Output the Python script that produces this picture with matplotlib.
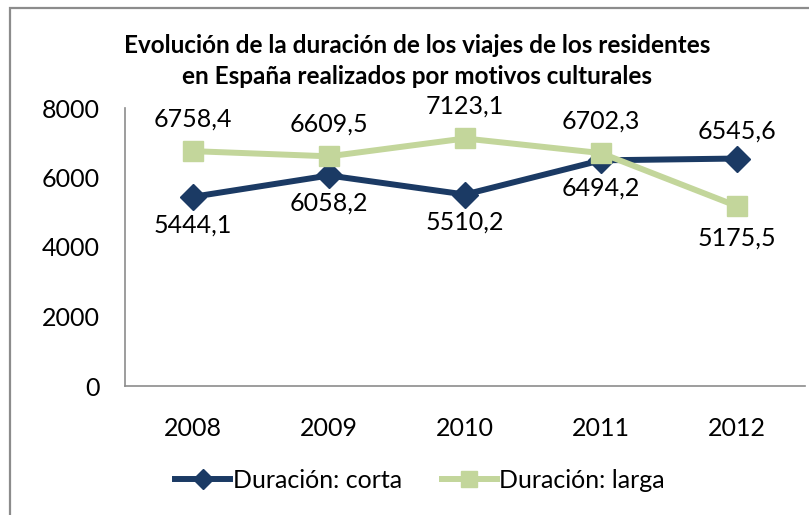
#!/usr/bin/env python3
"""Duracion de los viajes culturales de residentes en Espana, 2008-2012."""

import matplotlib
matplotlib.use('Agg')
import matplotlib.pyplot as plt
from matplotlib.patches import Rectangle

years = ['2008', '2009', '2010', '2011', '2012']
corta = [5444.1, 6058.2, 5510.2, 6494.2, 6545.6]
larga = [6758.4, 6609.5, 7123.1, 6702.3, 5175.5]
# label placement: +1 above the point, -1 below it
corta_side = [-1, -1, -1, -1, 1]
larga_side = [1, 1, 1, 1, -1]

NAVY = '#1b3a64'
GREEN = '#c3d69b'

plt.rcParams['font.family'] = ['Lato', 'DejaVu Sans']

fig = plt.figure(figsize=(8.09, 5.15), dpi=100)
fig.patches.append(Rectangle((10 / 809, -0.1), 1.2, 1 - 8 / 515 + 0.1,
                             transform=fig.transFigure, fill=False,
                             edgecolor='#8c8c8c', linewidth=1.6))

ax = fig.add_axes([125 / 809, 1 - 386 / 515, 680 / 809, 278 / 515])
x = range(len(years))

ax.plot(x, corta, color=NAVY, lw=4.3, marker='D', ms=13,
        label='Duración: corta', zorder=3)
ax.plot(x, larga, color=GREEN, lw=4.3, marker='s', ms=14.5,
        label='Duración: larga', zorder=4)

def fmt(v):
    return ('%.1f' % v).replace('.', ',')

for xi, v, s in zip(x, corta, corta_side):
    ax.annotate(fmt(v), (xi, v), xytext=(0, 20 * s), textcoords='offset points',
                ha='center', va='center', fontsize=18)
for xi, v, s in zip(x, larga, larga_side):
    ax.annotate(fmt(v), (xi, v), xytext=(0, 23 * s), textcoords='offset points',
                ha='center', va='center', fontsize=18)

ax.set_xlim(-0.5, len(years) - 0.5)
ax.set_ylim(0, 8000)
ax.set_yticks([0, 2000, 4000, 6000, 8000])
ax.set_xticks(list(x))
ax.set_xticklabels(years)
ax.tick_params(length=0, labelsize=18)
ax.tick_params(axis='y', pad=18)
ax.tick_params(axis='x', pad=22)
for side in ('top', 'right'):
    ax.spines[side].set_visible(False)
for side in ('left', 'bottom'):
    ax.spines[side].set_color('#8c8c8c')
    ax.spines[side].set_linewidth(1.2)

fig.text(417 / 809, 1 - 61 / 515,
         'Evolución de la duración de los viajes de los residentes\n'
         'en España realizados por motivos culturales',
         ha='center', va='center', fontsize=17.5, fontweight='bold',
         linespacing=1.45)

fig.legend(loc='center', bbox_to_anchor=(420 / 809, 1 - 480 / 515), ncol=2,
           frameon=False, fontsize=18, handlelength=2.2, handletextpad=0.1,
           columnspacing=1.6, markerscale=0.8)

fig.savefig('out.png', dpi=100)
